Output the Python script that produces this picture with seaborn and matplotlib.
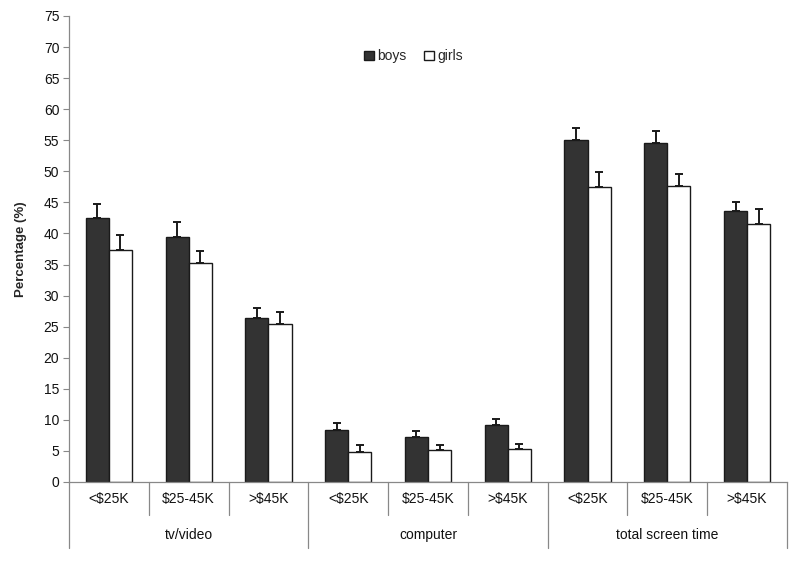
import numpy as np
import pandas as pd
import matplotlib
matplotlib.use("Agg")
import matplotlib.pyplot as plt
import matplotlib.transforms as mtransforms
import seaborn as sns

# Data
groups = ["tv/video", "computer", "total screen time"]
incomes = ["<\\$25K", "\\$25-45K", ">\\$45K"]
sexes = ["boys", "girls"]

boys = [42.5, 39.4, 26.4, 8.4, 7.2, 9.1, 55.1, 54.5, 43.6]
boys_err = [2.2, 2.5, 1.6, 1.1, 1.0, 1.0, 1.9, 2.0, 1.5]
girls = [37.3, 35.3, 25.4, 4.9, 5.2, 5.3, 47.4, 47.6, 41.5]
girls_err = [2.4, 1.9, 2.0, 1.0, 0.8, 0.8, 2.5, 1.9, 2.5]

slots = [f"{g}|{i}" for g in groups for i in incomes]

df = pd.DataFrame({
    "slot": slots * 2,
    "sex": ["boys"] * 9 + ["girls"] * 9,
    "value": boys + girls,
    "err": boys_err + girls_err,
})

sns.set_style("white")
plt.rcParams["font.family"] = ["Liberation Sans", "DejaVu Sans"]

fig = plt.figure(figsize=(8, 5.63), dpi=100)
ax = fig.add_axes([0.08625, 0.1439, 0.8975, 0.8277])

sns.barplot(
    data=df, x="slot", y="value", hue="sex", order=slots, hue_order=sexes,
    palette={"boys": "#333333", "girls": "#ffffff"},
    edgecolor="#1a1a1a", linewidth=1.0, width=0.58, errorbar=None,
    saturation=1, ax=ax,
)

# one-sided error bars, positioned from the drawn bars
bars = [p for p in ax.patches if p.get_height() > 0]
bars = sorted(bars, key=lambda p: p.get_x())
for p in bars:
    cx = p.get_x() + p.get_width() / 2
    h = p.get_height()
    row = df[np.isclose(df["value"], h)].iloc[0]
    ax.errorbar(cx, h, yerr=[[0], [row["err"]]], fmt="none", ecolor="#1a1a1a",
                elinewidth=1.4, capsize=3, capthick=1.4, zorder=5)

ax.set_ylim(0, 75)
ax.set_xlim(-0.5, 8.5)
ax.set_yticks(np.arange(0, 80, 5))
ax.tick_params(axis="y", labelsize=10, length=4, color="#888888", left=True,
               pad=3, labelcolor="#111111")
ax.set_ylabel("Percentage (%)", fontsize=9.5, fontweight="bold", labelpad=12)
ax.set_xlabel("")
ax.set_xticks([])
for s in ["top", "right"]:
    ax.spines[s].set_visible(False)
for s in ["left", "bottom"]:
    ax.spines[s].set_color("#888888")
    ax.spines[s].set_linewidth(0.9)

# two-level category axis
trans = mtransforms.blended_transform_factory(ax.transData, ax.transAxes)
for k, s in enumerate(slots):
    ax.text(k, -0.037, s.split("|")[1], transform=trans, ha="center",
            va="center", fontsize=10, color="#111111")
for k, g in enumerate(groups):
    ax.text(3 * k + 1, -0.114, g, transform=trans, ha="center", va="center",
            fontsize=10, color="#111111")
for x in np.arange(-0.5, 9, 1):
    outer = (x + 0.5) % 3 == 0
    ax.plot([x, x], [0, -0.1416 if outer else -0.0708], transform=trans,
            color="#888888", lw=0.9, clip_on=False)

leg = ax.legend(loc="upper center", bbox_to_anchor=(0.48, 0.955), ncol=2,
                frameon=False, fontsize=10, handlelength=0.7, handleheight=0.7,
                handletextpad=0.25, columnspacing=1.3)
for h in leg.legend_handles:
    h.set_edgecolor("#1a1a1a")
    h.set_linewidth(1.0)

fig.savefig("out.png", dpi=100)
